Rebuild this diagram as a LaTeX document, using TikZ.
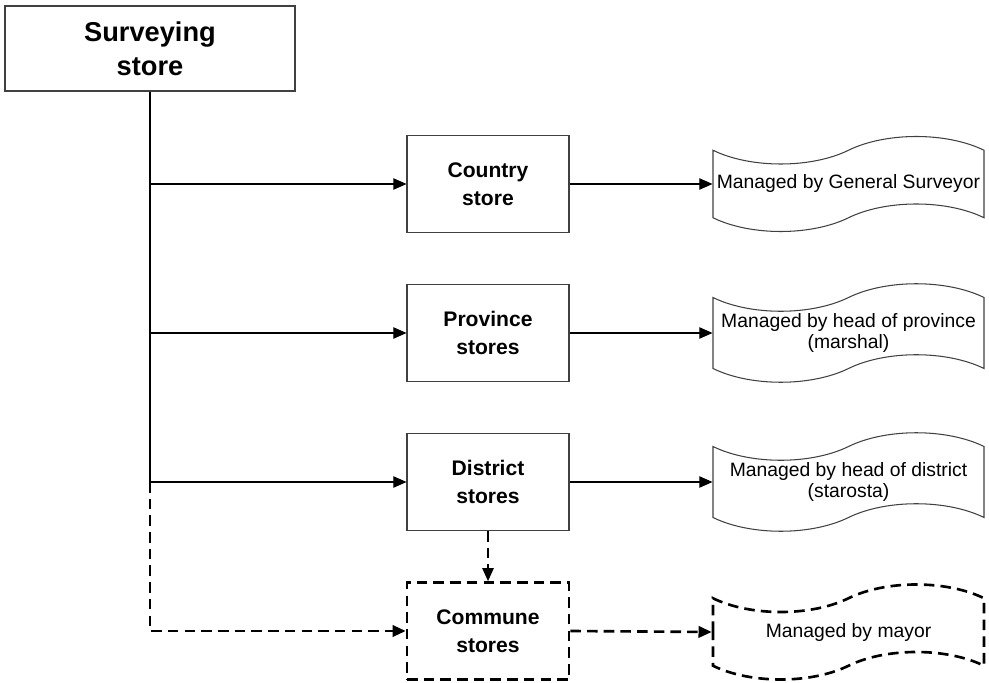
\documentclass[tikz,border=0pt]{standalone}
\usepackage{fontspec}
\setmainfont{Liberation Sans}
\usetikzlibrary{arrows.meta,shapes.symbols,positioning}

\tikzset{
  storebox/.style={draw=black!75, line width=0.6pt, minimum width=3.24cm,
    minimum height=1.94cm, align=center, font=\fontsize{12}{16}\selectfont\bfseries},
  docbox/.style={tape, draw=black!75, line width=0.6pt, minimum width=5.42cm,
    minimum height=1.9cm, tape bend height=0.55cm, align=center, inner sep=1pt,
    font=\fontsize{11}{12.5}\selectfont},
  dashline/.style={line width=1.5pt, dash pattern=on 6pt off 3.5pt},
}

\begin{document}
\begin{tikzpicture}[>={Triangle[length=7.5pt,width=6.5pt]}, line width=0.6pt]
\useasboundingbox (0,0) rectangle (19.78,-13.66);

\node[draw=black!75, minimum width=5.8cm, minimum height=1.7cm, align=center,
  font=\fontsize{15.5}{19.3}\selectfont\bfseries] (srv) at (3.0,-0.97) {Surveying\\store};

\foreach \i/\y/\s/\m in%
    {1/-3.68/Country\\store/Managed by General Surveyor,
     2/-6.66/Province\\stores/Managed by head of province\\(marshal),
     3/-9.64/District\\stores/Managed by head of district\\(starosta)} {
  \node[storebox] (s_\i) at (9.76, \y) {\s};
  \node[docbox] (d_\i) at (16.97, \y) {\m};
  \draw[->] (srv.south |- s_\i.west) -- (s_\i.west);
  \draw[->] (s_\i.east) -- (d_\i.west);
}
\draw (srv.south) -- (srv.south |- s_3.west);

% commune level is dashed
\node[storebox, dashline, draw=black] (s_4) at (9.76,-12.62) {Commune\\stores};
\node[docbox, dashline, draw=black] (d_4) at (16.97,-12.64) {Managed by mayor};
\draw[->, dashline] (srv.south |- s_3.west) |- (s_4.west);
\draw[->, dashline, line width=1pt] (s_3.south) -- (s_4.north);
\draw[->, dashline] (s_4.east) -- (d_4.west);

\end{tikzpicture}
\end{document}
